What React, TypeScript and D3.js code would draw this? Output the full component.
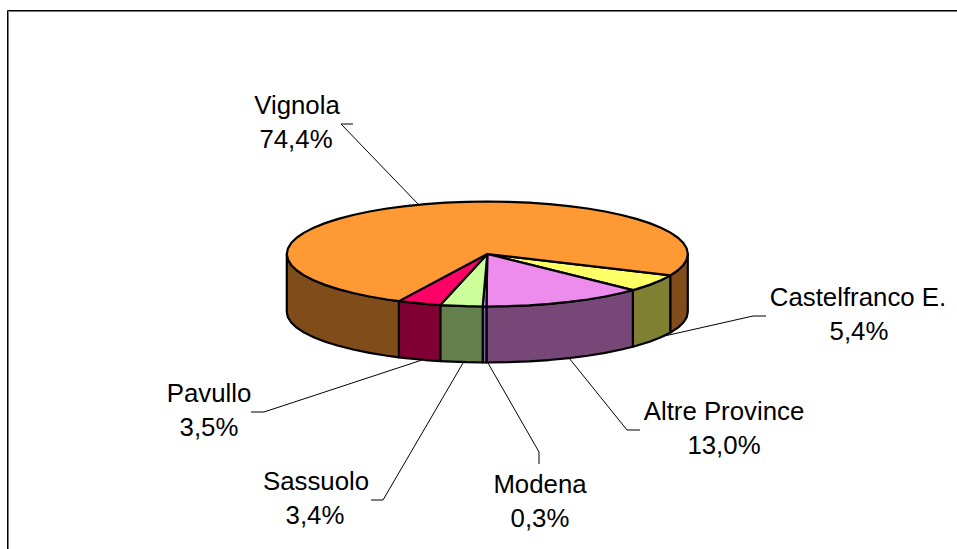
import React from "react";
import * as d3 from "d3";

const categories = ["Castelfranco E.", "Altre Province", "Modena", "Sassuolo", "Pavullo", "Vignola"];
const values = [5.4, 13.0, 0.3, 3.4, 3.5, 74.4];
const valueLabels = ["5,4%", "13,0%", "0,3%", "3,4%", "3,5%", "74,4%"];
const topColors = ["#FFFF66", "#EE8CEE", "#CC99FF", "#CCFF99", "#FF0066", "#FF9933"];
const sideColors = ["#808033", "#774777", "#8066A0", "#66804D", "#800033", "#804D1A"];

// label layout: [centre x, first baseline, second-line centre x]
const labelLayout = [
  [858, 306, 859],
  [724, 420, 724],
  [540, 493, 540],
  [316, 490, 315],
  [209, 402, 209],
  [297, 114, 296],
];
// leader-line polylines
const leaders: [number, number][][] = [
  [[766, 316], [753, 316], [660, 337]],
  [[640, 430], [627, 430], [569, 358]],
  [[539, 464], [539, 452], [488, 363]],
  [[371, 500], [383, 500], [463, 363]],
  [[251, 412], [264, 412], [422, 360]],
  [[353, 124], [341, 124], [419, 205]],
];

const W = 957;
const H = 549;
const rad = (d: number) => (d * Math.PI) / 180;
const startDeg = 114;
const cx = 487.3;
const rx = 200.5;
const topRim = { cy: 254, ry: 52.5 };
const botRim = { cy: 312, ry: 50.5 };
const stepDeg = 6;

const proj = (a: number, rim: { cy: number; ry: number }): [number, number] => [
  cx + rx * Math.sin(a),
  rim.cy - rim.ry * Math.cos(a),
];

const sampleAngles = (a0: number, a1: number) => {
  const step = rad(stepDeg);
  const out = [a0];
  let k = Math.ceil(a0 / step + 1e-6);
  while (k * step < a1 - 1e-6) {
    out.push(k * step);
    k++;
  }
  out.push(a1);
  return out;
};

const line = d3.line<[number, number]>();

const arcs = d3
  .pie<number>()
  .sort(null)
  .value((d) => d)
  .startAngle(rad(startDeg))
  .endAngle(rad(startDeg + 360))(values);

const topPath = (a0: number, a1: number) => {
  const pts: [number, number][] = [[cx, topRim.cy], ...sampleAngles(a0, a1).map((a) => proj(a, topRim))];
  return line(pts)! + "Z";
};

const sidePaths = (a0: number, a1: number) => {
  const res: string[] = [];
  for (const off of [0, Math.PI * 2]) {
    const lo = Math.max(a0, Math.PI / 2 + off);
    const hi = Math.min(a1, (Math.PI * 3) / 2 + off);
    if (hi > lo) {
      const as = sampleAngles(lo, hi);
      const pts = [...as.map((a) => proj(a, topRim)), ...[...as].reverse().map((a) => proj(a, botRim))];
      res.push(line(pts)! + "Z");
    }
  }
  return res;
};

const font = "'Liberation Sans', Arial, sans-serif";

export default function App() {
  return (
    <svg
      width={W}
      height={H}
      viewBox={`0 0 ${W} ${H}`}
      style={{ position: "fixed", left: 0, top: 0, background: "#fff", display: "block" }}
    >
      <path d={`M8.5 ${H}V11.5H${W}`} fill="none" stroke="#777" strokeWidth={1} />
      <path d={`M7.5 ${H}V10.5H${W}`} fill="none" stroke="#000" strokeWidth={1} />

      {leaders.map((pts, i) => (
        <path key={i} d={line(pts)!} fill="none" stroke="#000" strokeWidth={1} />
      ))}

      {arcs.map((d, i) =>
        sidePaths(d.startAngle, d.endAngle).map((p, j) => (
          <path key={`s${i}-${j}`} d={p} fill={sideColors[i]} stroke="#000" strokeWidth={2.2} strokeLinejoin="round" />
        ))
      )}
      {arcs.map((d, i) => (
        <path
          key={`t${i}`}
          d={topPath(d.startAngle, d.endAngle)}
          fill={topColors[i]}
          stroke="#000"
          strokeWidth={2.2}
          strokeLinejoin="round"
        />
      ))}

      {categories.map((c, i) => (
        <g key={c} fontFamily={font} fontSize={25.8} fill="#000" textAnchor="middle">
          <text x={labelLayout[i][0]} y={labelLayout[i][1]}>{c}</text>
          <text x={labelLayout[i][2]} y={labelLayout[i][1] + 34}>{valueLabels[i]}</text>
        </g>
      ))}
    </svg>
  );
}
